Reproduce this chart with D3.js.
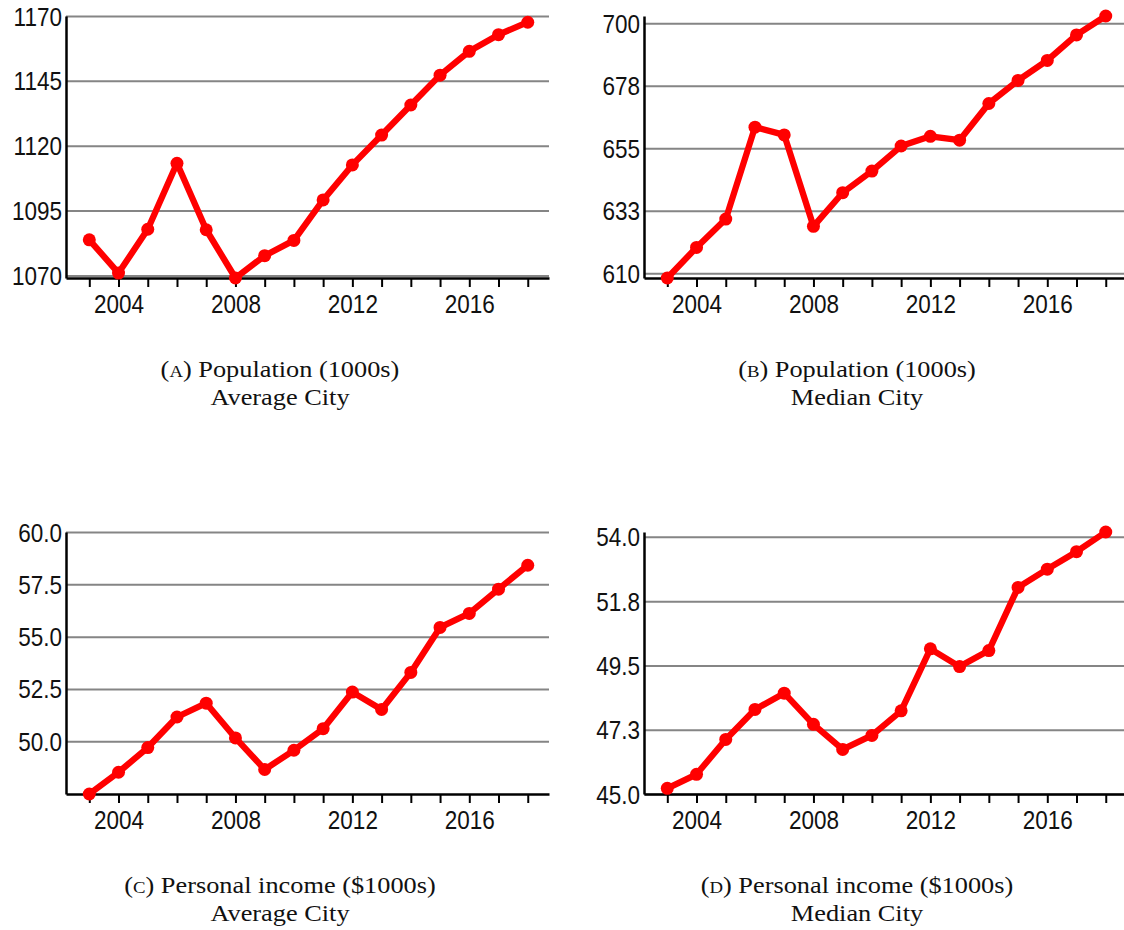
<!DOCTYPE html>
<html>
<head>
<meta charset="utf-8">
<script src="https://cdn.jsdelivr.net/npm/d3@7"></script>
<style>
  html, body { margin: 0; padding: 0; background: #fff; }
  svg { display: block; }
  .tick text { font-family: "Liberation Sans", Arial, sans-serif; font-size: 25px; fill: #111; }
  .caption { font-family: "Liberation Serif", "Times New Roman", serif; font-size: 22.5px; fill: #111; }
</style>
</head>
<body>
<svg id="chart" width="1124" height="930"></svg>
<script>
// Years on the horizontal axis and the ones that carry a label
const years = [2003, 2004, 2005, 2006, 2007, 2008, 2009, 2010, 2011, 2012, 2013, 2014, 2015, 2016, 2017, 2018];
const yearLabels = [2004, 2008, 2012, 2016];

// Population (1000s)
const popAverage = [1083.7, 1070.9, 1087.8, 1113.2, 1087.6, 1069.0, 1077.6, 1083.5, 1099.1, 1112.6, 1124.1, 1135.7, 1147.2, 1156.4, 1162.8, 1167.6];
const popMedian  = [608.3, 619.3, 629.5, 662.6, 659.8, 626.9, 639.0, 646.8, 655.8, 659.3, 657.9, 671.1, 679.4, 686.6, 695.8, 702.6];

// Personal income ($1000s)
const incAverage = [47.48, 48.52, 49.70, 51.16, 51.82, 50.16, 48.65, 49.57, 50.60, 52.35, 51.52, 53.29, 55.44, 56.11, 57.27, 58.41];
const incMedian  = [45.20, 45.69, 46.91, 47.96, 48.53, 47.44, 46.56, 47.05, 47.91, 50.08, 49.46, 50.02, 52.23, 52.87, 53.48, 54.17];

// Value axis ticks and their printed labels
const popAverageTicks = [1070, 1095, 1120, 1145, 1170];
const popAverageTickLabels = ["1070", "1095", "1120", "1145", "1170"];
const popMedianTicks = [610, 632.5, 655, 677.5, 700];
const popMedianTickLabels = ["610", "633", "655", "678", "700"];
const incAverageTicks = [50, 52.5, 55, 57.5, 60];
const incAverageTickLabels = ["50.0", "52.5", "55.0", "57.5", "60.0"];
const incMedianTicks = [45, 47.25, 49.5, 51.75, 54];
const incMedianTickLabels = ["45.0", "47.3", "49.5", "51.8", "54.0"];

// Value axis extents
const popAverageDomain = [1069.0, 1170];
const popMedianDomain = [608.3, 702.6];
const incAverageDomain = [47.48, 60];
const incMedianDomain = [45.0, 54.17];

// Captions
const captionLetters = ["a", "b", "c", "d"];
const captionTitles = ["Population (1000s)", "Population (1000s)", "Personal income ($1000s)", "Personal income ($1000s)"];
const captionSubtitles = ["Average City", "Median City", "Average City", "Median City"];

const panels = [
  { values: popAverage, ticks: popAverageTicks, labels: popAverageTickLabels, domain: popAverageDomain },
  { values: popMedian,  ticks: popMedianTicks,  labels: popMedianTickLabels,  domain: popMedianDomain },
  { values: incAverage, ticks: incAverageTicks, labels: incAverageTickLabels, domain: incAverageDomain },
  { values: incMedian,  ticks: incMedianTicks,  labels: incMedianTickLabels,  domain: incMedianDomain }
];

// Layout
const plotW = 483, plotH = 262;
const lefts = [66, 644];
const tops = [16, 532];
const captionX = [280, 857];
const captionY = [377, 893];
const sansStretch = 0.9;
const serifStretch = 1.17;

const svg = d3.select("#chart");

function stretch(sel, k) {
  sel.each(function () {
    const len = this.getComputedTextLength();
    if (len > 0) {
      this.setAttribute("textLength", len * k);
      this.setAttribute("lengthAdjust", "spacingAndGlyphs");
    }
  });
}

panels.forEach((p, i) => {
  const col = i % 2, row = Math.floor(i / 2);
  const g = svg.append("g").attr("transform", `translate(${lefts[col]},${tops[row]})`);

  const x = d3.scaleLinear().domain([2002.203, 2018.727]).range([0, plotW]);
  const y = d3.scaleLinear().domain(p.domain).range([plotH, 0]);

  // horizontal grid
  const grid = g.append("g")
    .call(d3.axisLeft(y).tickValues(p.ticks).tickSize(-plotW).tickFormat(""));
  grid.select(".domain").remove();
  grid.selectAll(".tick line").attr("stroke", "#858585").attr("stroke-width", 2);

  // y axis spine and labels
  const ya = g.append("g")
    .call(d3.axisLeft(y).tickValues(p.ticks).tickSize(0).tickSizeOuter(0).tickPadding(4)
      .tickFormat((d, k) => p.labels[k]));
  ya.select(".domain").attr("stroke", "#000").attr("stroke-width", 2.5);
  ya.selectAll(".tick text").attr("dy", "0.36em");
  stretch(ya.selectAll(".tick text"), sansStretch);

  // x axis
  const xa = g.append("g").attr("transform", `translate(0,${plotH})`)
    .call(d3.axisBottom(x).tickValues(years).tickSize(9).tickSizeOuter(0).tickPadding(8)
      .tickFormat(d => yearLabels.includes(d) ? String(d) : ""));
  xa.select(".domain").attr("stroke", "#000").attr("stroke-width", 2.5);
  xa.selectAll(".tick line").attr("stroke", "#000").attr("stroke-width", 2);
  stretch(xa.selectAll(".tick text").filter(function () { return this.textContent !== ""; }), sansStretch);

  // series
  const pts = years.map((yr, k) => [yr, p.values[k]]);
  g.append("path")
    .datum(pts)
    .attr("fill", "none")
    .attr("stroke", "#ff0000")
    .attr("stroke-width", 6.3)
    .attr("stroke-linejoin", "round")
    .attr("d", d3.line().x(d => x(d[0])).y(d => y(d[1])));
  g.selectAll("circle.pt")
    .data(pts)
    .join("circle")
    .attr("class", "pt")
    .attr("cx", d => x(d[0]))
    .attr("cy", d => y(d[1]))
    .attr("r", 6.5)
    .attr("fill", "#ff0000");

  // caption
  const cap = svg.append("g").attr("class", "caption");
  const t1 = cap.append("text")
    .attr("x", captionX[col]).attr("y", captionY[row])
    .attr("text-anchor", "middle");
  t1.append("tspan").text("(");
  t1.append("tspan").style("font-variant", "small-caps").text(captionLetters[i]);
  t1.append("tspan").text(") " + captionTitles[i]);
  const t2 = cap.append("text")
    .attr("x", captionX[col]).attr("y", captionY[row] + 28)
    .attr("text-anchor", "middle")
    .text(captionSubtitles[i]);
  stretch(t1, serifStretch);
  stretch(t2, serifStretch);
});
</script>
</body>
</html>
